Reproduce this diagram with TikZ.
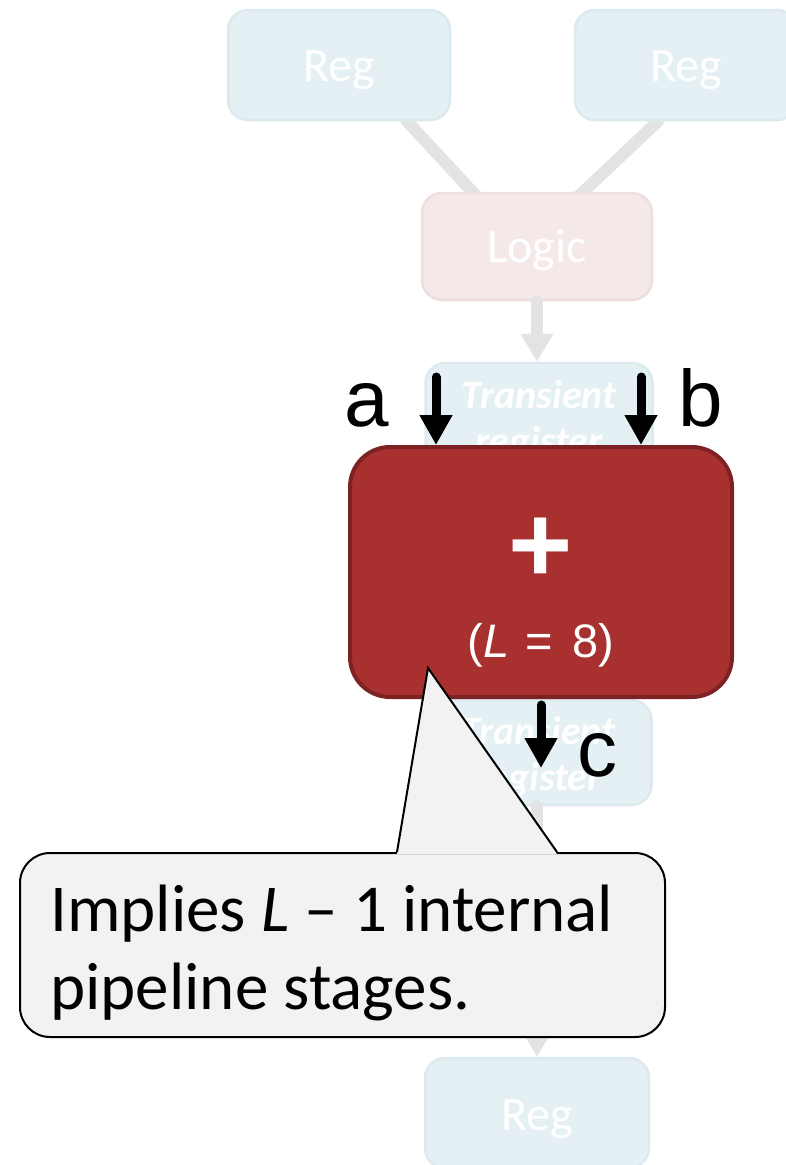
\documentclass[tikz,border=0pt]{standalone}
\usepackage{fontspec}
\setmainfont{Carlito}
\newfontfamily\arialf{Liberation Sans}
\usetikzlibrary{arrows.meta,calc,backgrounds}
\definecolor{regfill}{HTML}{E4F0F4}
\definecolor{regline}{HTML}{DCE9EE}
\definecolor{logicfill}{HTML}{F4E9E8}
\definecolor{logicline}{HTML}{EEDFDE}
\definecolor{wiregray}{HTML}{E3E3E3}
\definecolor{addfill}{HTML}{A83130}
\definecolor{addline}{HTML}{7D2222}
\definecolor{notefill}{HTML}{F2F2F2}
\newcommand{\dn}[2]{\raisebox{-#1pt}[\height][\depth]{#2}}
\begin{document}
\begin{tikzpicture}[x=1pt,y=-1pt,
  box/.style={draw, line width=2.5pt, rounded corners=20pt, inner sep=0pt, text=white,
    font=\fontsize{48}{58}\selectfont},
  regbox/.style={box, draw=regline, fill=regfill, minimum width=222pt, minimum height=110pt},
  logicbox/.style={box, draw=logicline, fill=logicfill, minimum width=230pt, minimum height=107pt},
  tbox/.style={box, draw=regline, fill=regfill, minimum width=227pt, minimum height=105pt,
    align=center, font=\fontsize{40}{46}\selectfont\bfseries\itshape},
  addbox/.style={draw=addline, fill=addfill, line width=4pt, rounded corners=40pt,
    minimum width=382pt, minimum height=250pt, inner sep=0pt},
  wire/.style={draw=wiregray, line width=12pt, line cap=round},
  wirearrow/.style={wire, -{Triangle[length=28pt,width=31pt]}},
  sig/.style={draw=black, line width=9pt, line cap=round, -{Triangle[length=30pt,width=31pt]}},
  lbl/.style={font=\arialf\fontsize{80}{96}\selectfont, inner sep=0pt, anchor=base},
  notebox/.style={draw=black, fill=notefill, line width=2pt, rounded corners=30pt,
    minimum width=645pt, minimum height=184pt, inner sep=0pt},
  notetext/.style={font=\fontsize{67}{78}\selectfont, align=left, inner sep=0pt, anchor=west}
]
\useasboundingbox (0,0) rectangle (786,1165);
% faded background pipeline
\node[regbox] (reg1) at (339,65) {\dn{5}{Reg}};
\node[regbox] (reg2) at (686,65) {\dn{5}{Reg}};
\node[logicbox] (logic) at (537,246.5) {\dn{4}{Logic}};
\begin{pgfonlayer}{background}
\draw[wire] ([xshift=68pt]reg1.south) -- ([xshift=-59pt,yshift=-6pt]logic.north);
\draw[wire] ([xshift=-28pt]reg2.south) -- ([xshift=40pt,yshift=-6pt]logic.north);
\end{pgfonlayer}
\node[tbox] (t1) at (539,415.5) {\dn{5}{Transient}\\\dn{5}{register}};
\draw[wirearrow] (logic.south) -- (logic.south |- t1.north);
\node[tbox] (t2) at (538,752.5) {\dn{4}{Transient}\\\dn{4}{register}};
\node[regbox, minimum width=224pt] (reg3) at (537,1113) {\dn{6}{Reg}};
\draw[wirearrow] (t2.south -| reg3.north) -- (reg3.north);
% adder
\node[addbox] (add) at (541,572) {};
\node[font=\arialf\bfseries\fontsize{110}{130}\selectfont, text=white, inner sep=0pt] (plus) at (541,550) {+};
\node[font=\arialf\fontsize{47}{56}\selectfont, text=white, inner sep=0pt, anchor=base] (lat) at (541,657) {(\textit{L}\hspace{3pt} = \hspace{6pt}8)};
% signals
\coordinate (ain) at (436,377);
\coordinate (bin) at (641,377);
\coordinate (cout) at (541,768);
\draw[sig] (ain) -- (ain |- add.north);
\draw[sig] (bin) -- (bin |- add.north);
\draw[sig] ([yshift=-6pt]add.south) -- (cout);
\node[lbl] (la) at (367,426) {a};
\node[lbl] (lb) at (701,426) {b};
\node[lbl] (lc) at (597,776) {c};
% callout
\node[notebox] (note) at (342.5,945) {};
\coordinate (tip) at (428,668);
\fill[notefill] ([xshift=54.5pt,yshift=-2pt]note.north) -- (tip) -- ([xshift=214.5pt,yshift=-2pt]note.north) -- cycle;
\draw[line width=2pt, line join=miter] ([xshift=54.5pt]note.north) -- (tip) -- ([xshift=214.5pt]note.north);
\node[notetext] (notetxt) at (50,953) {Implies {\itshape L} -- 1 internal\\pipeline stages.};
\end{tikzpicture}
\end{document}
